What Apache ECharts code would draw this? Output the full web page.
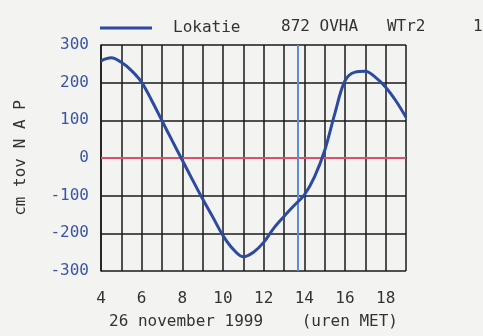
<!DOCTYPE html>
<html>
<head>
<meta charset="utf-8">
<script src="https://cdn.jsdelivr.net/npm/echarts@6/dist/echarts.min.js"></script>
<style>
  html, body { margin: 0; padding: 0; background: #f3f3f1; }
  #chart { width: 483px; height: 336px; }
</style>
</head>
<body>
<div id="chart"></div>
<script>
// waterstand, uren MET
const hours = [4, 4.5, 5, 5.5, 6, 6.5, 7, 7.5, 8, 8.5, 9, 9.5, 10, 10.5, 11, 11.5, 12, 12.5, 13, 13.5, 14, 14.5, 15, 15.5, 16, 16.5, 17, 17.5, 18, 18.5, 19]
const levels = [258, 266, 254, 232, 201, 152, 99, 46, -6, -58, -109, -157, -206, -242, -262, -250, -224, -186, -155, -126, -98, -50, 20, 118, 205, 228, 230, 214, 188, 152, 108]
const xTicks = [4, 6, 8, 10, 12, 14, 16, 18]
const nowHour = 13.66
const refLevel = 0

const font = 'DejaVu Sans Mono'
const chart = echarts.init(document.getElementById('chart'))

chart.setOption({
  backgroundColor: '#f3f3f1',
  animation: false,
  textStyle: { fontFamily: font },
  title: [
    { text: '872 OVHA   WTr2', left: 276, top: 14, textStyle: { fontFamily: font, fontSize: 16, fontWeight: 'normal', color: '#333' } },
    { text: '1', left: 468, top: 14, textStyle: { fontFamily: font, fontSize: 16, fontWeight: 'normal', color: '#333' } }
  ],
  legend: {
    left: 95,
    top: 15,
    itemWidth: 52,
    itemHeight: 3,
    data: [{ name: 'Lokatie', icon: 'rect' }],
    textStyle: { fontFamily: font, fontSize: 16, color: '#333', padding: [0, 0, 0, 16] }
  },
  grid: { left: 101, right: 77, top: 45, bottom: 65 },
  xAxis: {
    type: 'value',
    min: 4,
    max: 19,
    interval: 1,
    name: '26 november 1999    (uren MET)',
    nameLocation: 'middle',
    nameGap: 43,
    nameTextStyle: { fontFamily: font, fontSize: 16, color: '#333' },
    axisLine: { show: true, lineStyle: { color: '#1a1a1a', width: 1.5 } },
    axisTick: { show: false },
    axisLabel: {
      margin: 20,
      fontSize: 16,
      color: '#333',
      formatter: v => (xTicks.includes(v) ? String(v) : '')
    },
    splitLine: { show: true, lineStyle: { color: '#1a1a1a', width: 1.5 } }
  },
  yAxis: {
    type: 'value',
    min: -300,
    max: 300,
    interval: 100,
    name: 'cm tov N A P',
    nameLocation: 'middle',
    nameGap: 72,
    nameTextStyle: { fontFamily: font, fontSize: 16, color: '#333' },
    axisLine: { show: true, lineStyle: { color: '#1a1a1a', width: 1.5 } },
    axisTick: { show: false },
    axisLabel: { margin: 12, fontSize: 16, color: '#3a55a8' },
    splitLine: { show: true, lineStyle: { color: '#1a1a1a', width: 1.5 } }
  },
  series: [
    {
      name: 'Lokatie',
      type: 'line',
      data: hours.map((h, i) => [h, levels[i]]),
      smooth: 0.35,
      symbol: 'none',
      color: '#2c4aa0',
      lineStyle: { color: '#2c4aa0', width: 3 },
      z: 5,
      markLine: {
        silent: true,
        symbol: 'none',
        label: { show: false },
        data: [
          { yAxis: refLevel, lineStyle: { color: '#e0506a', width: 2, type: 'solid' } },
          { xAxis: nowHour, lineStyle: { color: '#5b8fd8', width: 2, type: 'solid' } }
        ]
      }
    }
  ]
})
</script>
</body>
</html>
